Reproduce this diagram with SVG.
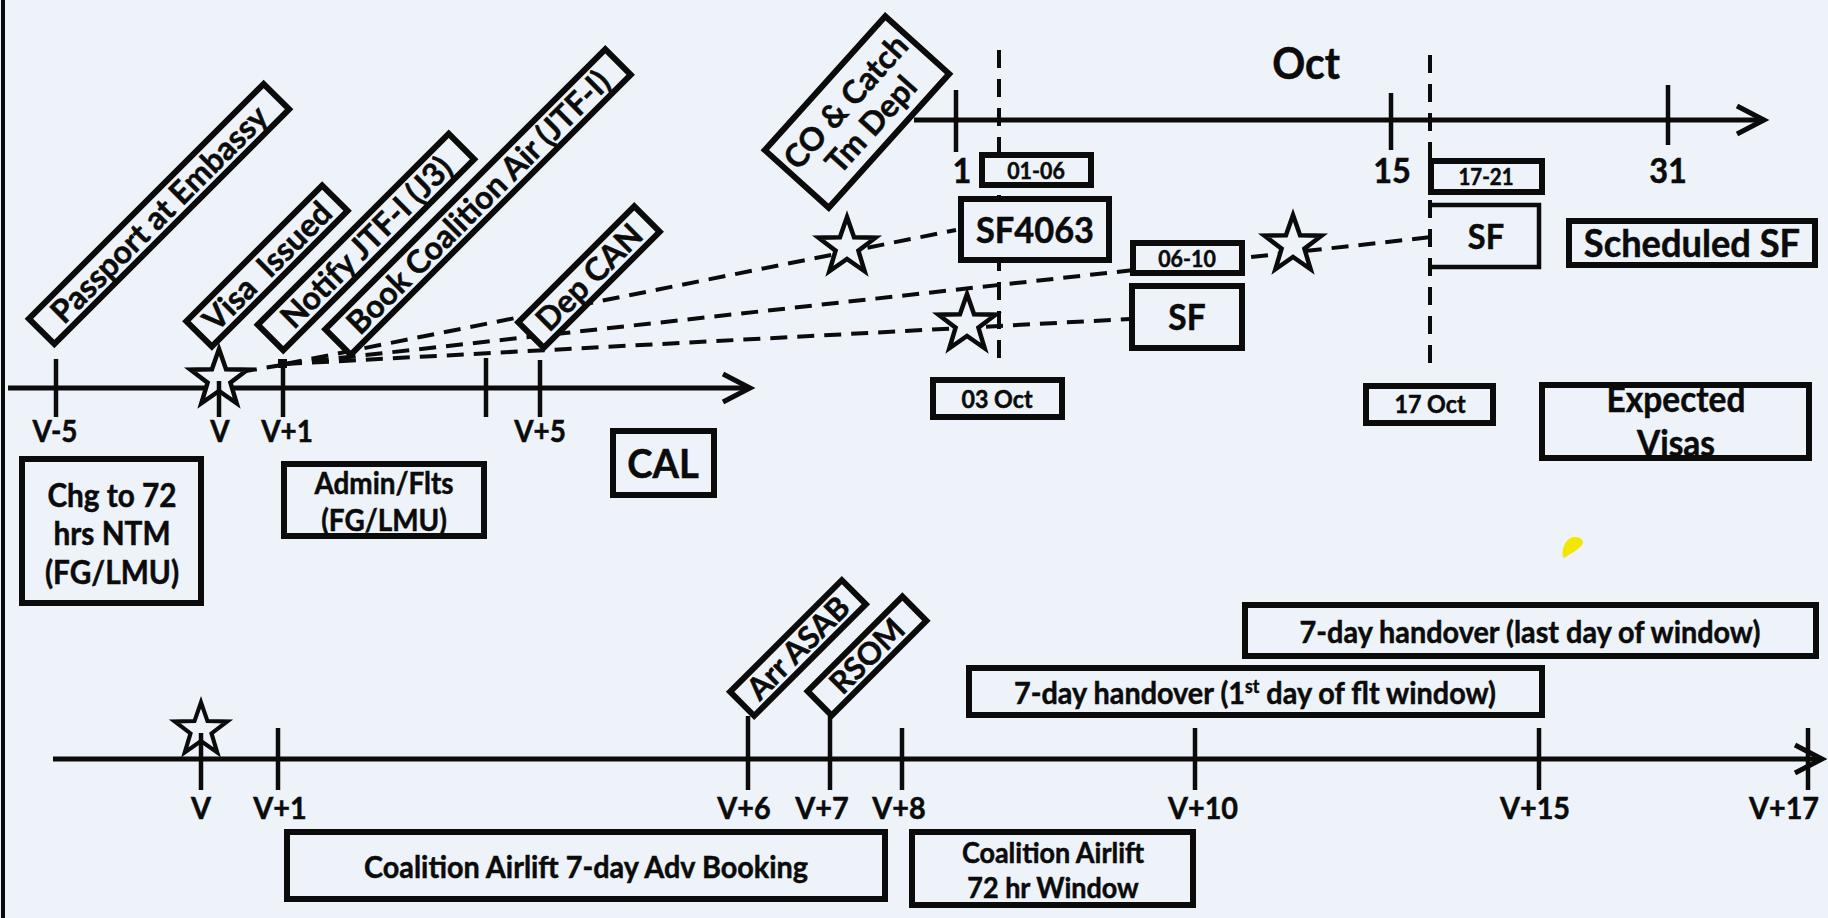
<svg xmlns="http://www.w3.org/2000/svg" width="1828" height="918" viewBox="0 0 1828 918">
<defs>
<style>
.bg{fill:#edf3f9}
.box{fill:#edf3f9;stroke:#0b0b0b;stroke-width:6}
.ln{stroke:#0b0b0b;stroke-width:5;fill:none}
.tk{stroke:#0b0b0b;stroke-width:4.5;fill:none}
.dash{stroke:#0b0b0b;stroke-width:4;stroke-dasharray:17 10;fill:none}
.vdash{stroke:#0b0b0b;stroke-width:4;stroke-dasharray:18 11;fill:none}
.star{fill:#edf3f9;stroke:#0b0b0b;stroke-width:4.5}
text{font-family:Lato,"Open Sans","Liberation Sans",sans-serif;font-weight:700;fill:#0b0b0b;stroke:#0b0b0b;stroke-width:0.5px;text-anchor:middle}
</style>
<marker id="arr" markerUnits="userSpaceOnUse" markerWidth="44" markerHeight="44" viewBox="-36 -22 44 44" refX="0" refY="0" orient="auto">
<polyline points="-27,-14 0,0 -27,14" fill="none" stroke="#0b0b0b" stroke-width="5"/>
</marker>
<path id="star" d="M0,-30 L7.05,-9.71 L28.53,-9.27 L11.41,3.71 L17.63,24.27 L0,12 L-17.63,24.27 L-11.41,3.71 L-28.53,-9.27 L-7.05,-9.71 Z"/>
</defs>
<rect class="bg" x="0" y="0" width="1828" height="918"/>
<line x1="3" y1="0" x2="3" y2="918" stroke="#0b0b0b" stroke-width="4"/>
<path d="M1575,537 C1581,537 1585,541 1582,545 C1578,550 1570,554 1564,558 C1561,555 1563,546 1566,542 C1569,538 1572,537 1575,537 Z" fill="#f3e600"/>

<g id="connectors">
  <line class="dash" x1="240" y1="372" x2="282" y2="365"/>
  <line class="dash" x1="285" y1="364" x2="956" y2="230"/>
  <line class="dash" x1="285" y1="364" x2="1432" y2="237"/>
  <line class="dash" x1="285" y1="364" x2="1130" y2="319"/>
  <line class="vdash" x1="999" y1="50" x2="999" y2="368"/>
  <line class="vdash" x1="1430" y1="55" x2="1430" y2="374"/>
  <line class="ln" x1="8" y1="388" x2="750" y2="388" marker-end="url(#arr)"/>
  <line class="tk" x1="56" y1="359" x2="56" y2="417"/>
  <line class="tk" x1="283" y1="362" x2="283" y2="417"/>
  <rect x="278" y="359" width="9" height="9" fill="#0b0b0b"/>
  <line class="tk" x1="486" y1="358" x2="486" y2="417"/>
  <line class="tk" x1="540" y1="360" x2="540" y2="417"/>
  <line class="ln" x1="914" y1="120" x2="1764" y2="120" marker-end="url(#arr)"/>
  <line class="tk" x1="956" y1="90" x2="956" y2="152"/>
  <line class="tk" x1="1391" y1="93" x2="1391" y2="150"/>
  <line class="tk" x1="1668" y1="85" x2="1668" y2="145"/>
  <line class="ln" x1="53" y1="759" x2="1822" y2="759" marker-end="url(#arr)"/>
  <line class="tk" x1="278" y1="728" x2="278" y2="790"/>
  <line class="tk" x1="748" y1="716" x2="748" y2="790"/>
  <line class="tk" x1="830" y1="716" x2="830" y2="790"/>
  <line class="tk" x1="902" y1="728" x2="902" y2="790"/>
  <line class="tk" x1="1195" y1="728" x2="1195" y2="790"/>
  <line class="tk" x1="1539" y1="728" x2="1539" y2="790"/>
  <line class="tk" x1="1808" y1="728" x2="1808" y2="790"/>
</g>

<g id="stars">
  <use href="#star" class="star" x="219" y="379"/>
  <line class="tk" x1="219" y1="381" x2="219" y2="417"/>
  <use href="#star" class="star" x="847" y="247"/>
  <use href="#star" class="star" x="1293" y="245"/>
  <use href="#star" class="star" x="967" y="324"/>
  <use href="#star" class="star" transform="translate(201,730) scale(0.92)"/>
  <line class="tk" x1="201" y1="733" x2="201" y2="790"/>
</g>

<g id="axis-labels">
  <text transform="translate(55,442) scale(.93,1)" style="font-size:30px">V-5</text>
  <text transform="translate(220,442) scale(.93,1)" style="font-size:30px">V</text>
  <text transform="translate(287,442) scale(.93,1)" style="font-size:30px">V+1</text>
  <text transform="translate(540,442) scale(.93,1)" style="font-size:30px">V+5</text>
  <text transform="translate(1306,79) scale(.93,1)" style="font-size:44px">Oct</text>
  <text transform="translate(962,183) scale(.93,1)" style="font-size:35px">1</text>
  <text transform="translate(1392,183) scale(.93,1)" style="font-size:35px">15</text>
  <text transform="translate(1668,183) scale(.93,1)" style="font-size:35px">31</text>
  <text transform="translate(201,819) scale(.93,1)" style="font-size:31px">V</text>
  <text transform="translate(280,819) scale(.93,1)" style="font-size:31px">V+1</text>
  <text transform="translate(744,819) scale(.93,1)" style="font-size:31px">V+6</text>
  <text transform="translate(822,819) scale(.93,1)" style="font-size:31px">V+7</text>
  <text transform="translate(899,819) scale(.93,1)" style="font-size:31px">V+8</text>
  <text transform="translate(1203,819) scale(.93,1)" style="font-size:31px">V+10</text>
  <text transform="translate(1535,819) scale(.93,1)" style="font-size:31px">V+15</text>
  <text transform="translate(1784,819) scale(.93,1)" style="font-size:31px">V+17</text>
</g>

<g id="passport" transform="translate(159,214) rotate(-45)">
  <rect class="box" x="-166" y="-18" width="332" height="36"/>
  <text x="0" y="11.5" style="font-size:32px">Passport at Embassy</text>
</g>
<g id="visa" transform="translate(267,266) rotate(-45)">
  <rect class="box" x="-96" y="-18" width="192" height="36"/>
  <text x="0" y="11.5" style="font-size:32px" xml:space="preserve">Visa  Issued</text>
</g>
<g id="notify" transform="translate(366,242) rotate(-45)">
  <rect class="box" x="-135" y="-18" width="270" height="36"/>
  <text x="0" y="11.5" style="font-size:32px">Notify JTF-I (J3)</text>
</g>
<g id="book" transform="translate(478,202) rotate(-45)">
  <rect class="box" x="-198" y="-18" width="396" height="36"/>
  <text x="0" y="11.5" style="font-size:32px">Book Coalition Air (JTF-I)</text>
</g>
<g id="depcan" transform="translate(589,277) rotate(-45)">
  <rect class="box" x="-82" y="-18" width="164" height="36"/>
  <text x="0" y="11.5" style="font-size:32px">Dep CAN</text>
</g>
<g id="co-catch" transform="translate(857,112) rotate(-48)">
  <rect class="box" x="-90" y="-43" width="180" height="86"/>
  <text x="0" y="-4" style="font-size:32px">CO &amp; Catch</text>
  <text x="0" y="30" style="font-size:32px">Tm Depl</text>
</g>
<g id="arr-asab" transform="translate(798,648) rotate(-45)">
  <rect class="box" x="-79" y="-17" width="158" height="34"/>
  <text x="0" y="11" style="font-size:31px">Arr ASAB</text>
</g>
<g id="rsom" transform="translate(867,656) rotate(-45)">
  <rect class="box" x="-67" y="-17" width="134" height="34"/>
  <text x="0" y="11" style="font-size:31px">RSOM</text>
</g>

<g id="box-01-06"><rect class="box" x="982" y="155" width="109" height="30"/><text transform="translate(1036,179) scale(.93,1)" style="font-size:23px">01-06</text></g>
<g id="box-sf4063"><rect class="box" x="961" y="199" width="148" height="61"/><text transform="translate(1035,243) scale(.93,1)" style="font-size:37px">SF4063</text></g>
<g id="box-06-10"><rect class="box" x="1133" y="243" width="109" height="30"/><text transform="translate(1187,267) scale(.93,1)" style="font-size:23px">06-10</text></g>
<g id="box-sf-mid"><rect class="box" x="1132" y="286" width="110" height="62"/><text transform="translate(1187,330) scale(.93,1)" style="font-size:36px">SF</text></g>
<g id="box-03oct"><rect class="box" x="933" y="380" width="129" height="37"/><text transform="translate(997,408) scale(.93,1)" style="font-size:25px">03 Oct</text></g>
<g id="box-17-21"><rect class="box" x="1431" y="161" width="111" height="31"/><text transform="translate(1486,185) scale(.93,1)" style="font-size:22px">17-21</text></g>
<g id="box-sf-right"><rect x="1433" y="205" width="106" height="62" fill="#edf3f9"/><path d="M1432,205 H1539 V267 H1432" fill="none" stroke="#0b0b0b" stroke-width="4.5"/><line class="vdash" x1="1430" y1="55" x2="1430" y2="374"/><text transform="translate(1486,249) scale(.93,1)" style="font-size:35px">SF</text></g>
<g id="box-scheduled"><rect class="box" x="1569" y="221" width="246" height="44"/><text transform="translate(1692,257) scale(.93,1)" style="font-size:39px">Scheduled SF</text></g>
<g id="box-17oct"><rect class="box" x="1366" y="386" width="127" height="37"/><text transform="translate(1430,413) scale(.93,1)" style="font-size:25px">17 Oct</text></g>
<g id="box-expected"><rect class="box" x="1542" y="385" width="267" height="73"/><text transform="translate(1676,412) scale(.93,1)" style="font-size:36px">Expected</text><text transform="translate(1676,456) scale(.93,1)" style="font-size:36px">Visas</text></g>
<g id="box-cal"><rect class="box" x="613" y="431" width="101" height="64"/><text transform="translate(663,478) scale(.93,1)" style="font-size:41px">CAL</text></g>
<g id="box-chg"><rect class="box" x="22" y="459" width="179" height="144"/><text transform="translate(112,507) scale(.93,1)" style="font-size:32px">Chg to 72</text><text transform="translate(112,545) scale(.93,1)" style="font-size:32px">hrs NTM</text><text transform="translate(112,584) scale(.93,1)" style="font-size:32px">(FG/LMU)</text></g>
<g id="box-admin"><rect class="box" x="284" y="464" width="200" height="72"/><text transform="translate(384,494) scale(.93,1)" style="font-size:30px">Admin/Flts</text><text transform="translate(384,531) scale(.93,1)" style="font-size:30px">(FG/LMU)</text></g>
<g id="box-adv-booking"><rect class="box" x="287" y="832" width="598" height="67"/><text transform="translate(586,878) scale(.93,1)" style="font-size:31px">Coalition Airlift 7-day Adv Booking</text></g>
<g id="box-72hr"><rect class="box" x="912" y="832" width="281" height="73"/><text transform="translate(1053,863) scale(.93,1)" style="font-size:29px">Coalition Airlift</text><text transform="translate(1053,898) scale(.93,1)" style="font-size:29px">72 hr Window</text></g>
<g id="box-handover-first"><rect class="box" x="969" y="668" width="573" height="47"/><text transform="translate(1255,704) scale(.93,1)" style="font-size:31px">7-day handover (1<tspan dy="-11" style="font-size:19px">st</tspan><tspan dy="11"> day of flt window)</tspan></text></g>
<g id="box-handover-last"><rect class="box" x="1245" y="605" width="571" height="51"/><text transform="translate(1530,643) scale(.93,1)" style="font-size:31px">7-day handover (last day of window)</text></g>
</svg>
